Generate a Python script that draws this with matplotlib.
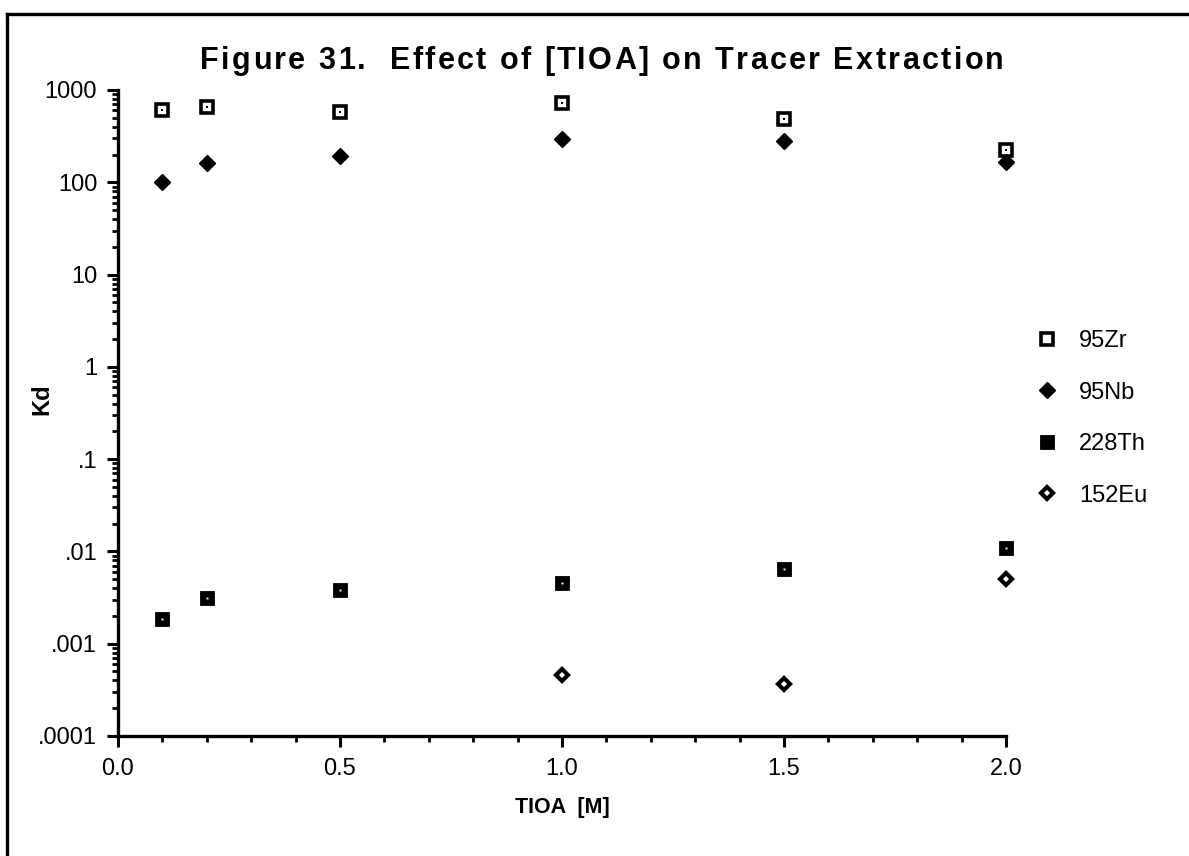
import numpy as np
import matplotlib
matplotlib.use('Agg')
import matplotlib.pyplot as plt
from matplotlib.lines import Line2D
from matplotlib.ticker import LogLocator, NullFormatter, MultipleLocator
from matplotlib.textpath import TextToPath
from matplotlib.font_manager import FontProperties

# Data
tioa = [0.1, 0.2, 0.5, 1.0, 1.5, 2.0]
kd_zr = [600, 650, 580, 730, 490, 225]
kd_nb = [100, 162, 195, 293, 280, 167]
kd_th = [0.00185, 0.0031, 0.0038, 0.0046, 0.0064, 0.0109]
tioa_eu = [1.0, 1.5, 2.0]
kd_eu = [0.00046, 0.00037, 0.0050]

yticks = [1e-4, 1e-3, 1e-2, 1e-1, 1, 10, 100, 1000]
ylabels = ['.0001', '.001', '.01', '.1', '1', '10', '100', '1000']
xticks = [0.0, 0.5, 1.0, 1.5, 2.0]
xlabels = ['0.0', '0.5', '1.0', '1.5', '2.0']
names = ['95Zr', '95Nb', '228Th', '152Eu']
title = 'Figure 31.  Effect of [TIOA] on Tracer Extraction'

plt.rcParams['font.family'] = ['Liberation Sans', 'DejaVu Sans']

W, H = 1189, 856
fig = plt.figure(figsize=(W / 100, H / 100), dpi=100)
ax = fig.add_axes([118 / W, 1 - 736 / H, (1006 - 118) / W, (736 - 90) / H])

# marker styles
zr_style = dict(marker='s', ms=8, mfc='white', mec='black', mew=2.6)
nb_style = dict(marker='D', ms=8.3, mfc='black', mec='black', mew=1)
th_style = dict(marker='s', ms=10.5, mfc='black', mec='black', mew=0.6)
eu_style = dict(marker='D', ms=6.5, mfc='white', mec='black', mew=3)

ax.plot(tioa, kd_zr, ls='none', clip_on=False, **zr_style)
ax.plot(tioa, kd_zr, ls='none', marker='s', ms=1.8, mfc='black', mew=0, clip_on=False)
ax.plot(tioa, kd_nb, ls='none', clip_on=False, **nb_style)
ax.plot(tioa, kd_th, ls='none', clip_on=False, **th_style)
ax.plot(tioa, kd_th, ls='none', marker='s', ms=1.4, mfc='white', mew=0, clip_on=False)
ax.plot(tioa_eu, kd_eu, ls='none', clip_on=False, **eu_style)

ax.set_yscale('log')
ax.set_ylim(1e-4, 1e3)
ax.set_xlim(0, 2.0)
ax.set_yticks(yticks)
ax.set_yticklabels(ylabels)
ax.yaxis.set_minor_locator(LogLocator(base=10, subs=np.arange(2, 10)))
ax.yaxis.set_minor_formatter(NullFormatter())
ax.set_xticks(xticks)
ax.set_xticklabels(xlabels)
ax.xaxis.set_minor_locator(MultipleLocator(0.1))

for s in ['top', 'right']:
    ax.spines[s].set_visible(False)
for s in ['left', 'bottom']:
    ax.spines[s].set_linewidth(2.4)

ax.tick_params(which='major', direction='out', length=8, width=2.2, labelsize=17, pad=7)
ax.tick_params(which='minor', direction='out', length=4.5, width=2.0)
ax.tick_params(axis='x', which='major', pad=8)

# title, spread out a little like the original
prop = FontProperties(family='Liberation Sans', weight='bold', size=22)
ttp = TextToPath()
cw = [ttp.get_text_width_height_descent(c, prop, ismath=False)[0] * 100 / 72 for c in title]
x0, x1 = 200, 1004
gap = (x1 - x0 - sum(cw)) / (len(title) - 1)
x = x0
for c, w in zip(title, cw):
    fig.text(x / W, 1 - 69 / H, c, ha='left', va='baseline', fontproperties=prop)
    x += w + gap

fig.text(562 / W, 1 - 807 / H, 'TIOA  [M]', ha='center', va='center', fontsize=15.5, fontweight='bold')
fig.text(42 / W, 1 - 399 / H, 'Kd', ha='center', va='center', rotation=90, fontsize=17, fontweight='bold')

# legend
handles = [Line2D([], [], ls='none', **st) for st in (zr_style, nb_style, th_style, eu_style)]
fig.legend(handles, names, loc='upper left', bbox_to_anchor=(1035 / W, 1 - 330 / H),
           frameon=False, fontsize=17, handlelength=1.0, handletextpad=0.86,
           labelspacing=1.25, borderpad=0, borderaxespad=0)

# outer frame lines
fig.add_artist(Line2D([7 / W, 7 / W], [0, 1 - 14 / H], color='black', lw=2.4))
fig.add_artist(Line2D([7 / W, 1], [1 - 14 / H, 1 - 14 / H], color='black', lw=2.4))

fig.savefig('out.png', dpi=100)
